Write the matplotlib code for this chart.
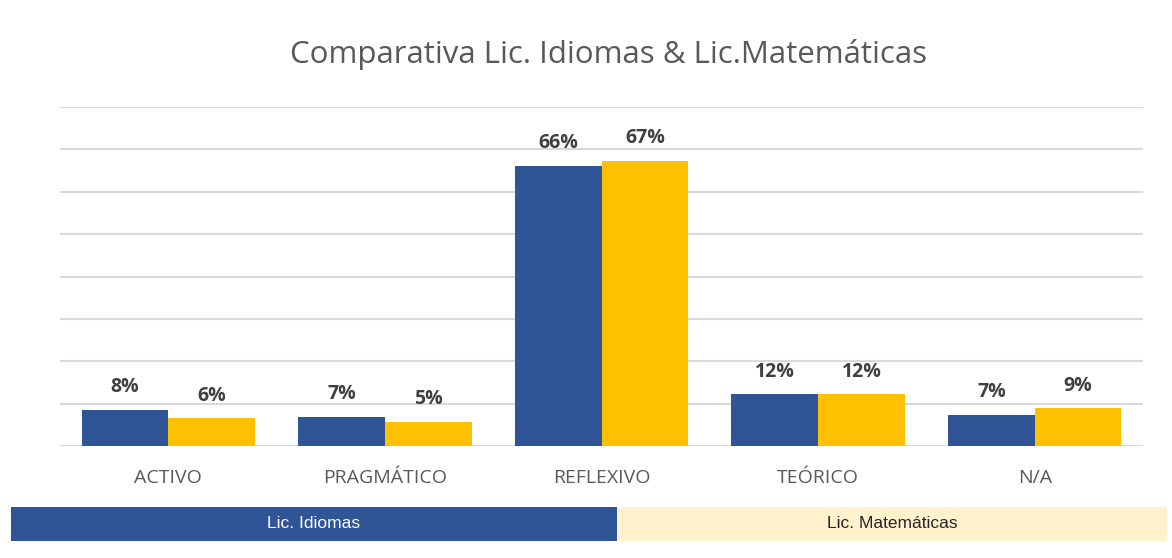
import matplotlib
matplotlib.use("Agg")
import matplotlib.pyplot as plt
from matplotlib.patches import Rectangle

categories = ["ACTIVO", "PRAGMÁTICO", "REFLEXIVO", "TEÓRICO", "N/A"]
idiomas = [8.5, 6.9, 66.1, 12.2, 7.3]
matematicas = [6.5, 5.7, 67.3, 12.2, 8.9]
idiomas_labels = ["8%", "7%", "66%", "12%", "7%"]
matematicas_labels = ["6%", "5%", "67%", "12%", "9%"]
series_names = ["Lic. Idiomas", "Lic. Matemáticas"]
title = "Comparativa Lic. Idiomas & Lic.Matemáticas"

BLUE = "#2F5597"
YELLOW = "#FFC000"
LIGHT = "#FFF2CC"
GRAY = "#595959"

fig = plt.figure(figsize=(11.72, 5.58), dpi=100)
ax = fig.add_axes([60/1172, 1-446/558, 1083/1172, (446-107)/558])

x = range(len(categories))
w = 0.4
b1 = ax.bar([i - w/2 for i in x], idiomas, width=w, color=BLUE, zorder=3)
b2 = ax.bar([i + w/2 for i in x], matematicas, width=w, color=YELLOW, zorder=3)

for bars, labels in ((b1, idiomas_labels), (b2, matematicas_labels)):
    for rect, lab in zip(bars, labels):
        ax.text(rect.get_x() + rect.get_width()/2, rect.get_height() + 3.0, lab,
                ha="center", va="bottom", fontsize=14, fontweight="bold",
                color="#404040", family="Open Sans")

ax.set_xlim(-0.5, len(categories) - 0.5)
ax.set_ylim(0, 80)
ax.set_yticks(range(0, 81, 10))
ax.yaxis.grid(True, color="#D9D9D9", linewidth=1.5, zorder=0)
ax.tick_params(axis="y", left=False, labelleft=False)
ax.tick_params(axis="x", bottom=False, pad=13)
ax.set_xticks(list(x))
ax.set_xticklabels(categories, fontsize=14, color=GRAY, family="Open Sans")
for s in ax.spines.values():
    s.set_visible(False)

fig.text(0.519, 1 - 55/558, title, ha="center", va="center",
         fontsize=22.5, color=GRAY, family="Open Sans")

y0 = 1 - 541/558
h = (541 - 507)/558
fig.patches.append(Rectangle((11/1172, y0), (617-11)/1172, h,
                             transform=fig.transFigure, facecolor=BLUE,
                             edgecolor="none"))
fig.patches.append(Rectangle((617/1172, y0), (1167-617)/1172, h,
                             transform=fig.transFigure, facecolor=LIGHT,
                             edgecolor="none"))
fig.text((11+617)/2/1172, y0 + h/2, series_names[0], ha="center", va="center",
         fontsize=12.5, color="white", family="Liberation Sans")
fig.text((617+1167)/2/1172, y0 + h/2, series_names[1], ha="center", va="center",
         fontsize=12.5, color="#262626", family="Liberation Sans")

fig.savefig("out.png", dpi=100)
